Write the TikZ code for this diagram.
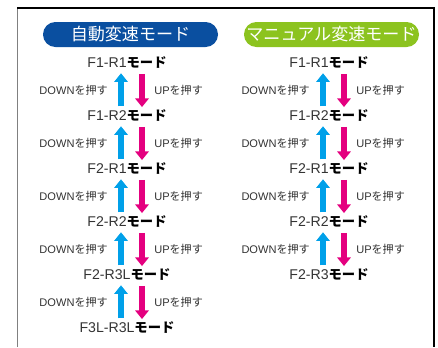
\documentclass[tikz,border=0pt]{standalone}
\usepackage{fontspec}
\setmainfont{Liberation Sans}
\newfontfamily\jpfont{Noto Sans CJK JP}
\newcommand{\jp}[1]{{\jpfont #1}}
\newcommand{\modetxt}[1]{#1{\jpfont\fontsize{10}{12}\selectfont\color{black}\textbf{モード}}}
\newcommand{\pushtxt}[1]{#1{\jpfont を押す}}
\usetikzlibrary{arrows.meta,positioning}
\definecolor{autoblue}{HTML}{0A4FA0}
\definecolor{manugreen}{HTML}{8CC31F}
\definecolor{upcyan}{HTML}{00A0E9}
\definecolor{downmag}{HTML}{E4007F}

\begin{document}
\begin{tikzpicture}[x=0.75pt,y=-0.75pt,
  pill/.style={rounded corners=9.3pt, minimum width=131.25pt, minimum height=18.75pt, inner sep=0pt, text=white, font=\jpfont\fontsize{12.8}{14}\selectfont},
  mode/.style={inner sep=0pt, text height=7.5pt, text depth=2pt, text=black!80, font=\fontsize{10.6}{12}\selectfont},
  push/.style={inner sep=0pt, text=black!80, font=\fontsize{8.3}{10}\selectfont},
  uparr/.style={draw=upcyan, line width=4.5pt, -{Triangle[width=10pt,length=6.5pt]}, shorten <=3pt, shorten >=2pt},
  downarr/.style={draw=downmag, line width=4.5pt, -{Triangle[width=10pt,length=6.5pt]}, shorten <=2.5pt, shorten >=2.5pt}]
\useasboundingbox (0,0) rectangle (438,347);
% frame
\draw[gray, line width=0.9pt] (17.5,347) -- (17.5,8);
\draw[line width=0.9pt] (17,8) -- (434,8) -- (434,347);
% headers
\node[pill, fill=autoblue] (auto) at (130.5,34.5) {自動変速モード};
\node[pill, fill=manugreen] (manual) at (331.5,34.5) {マニュアル変速モード};
% automatic
\node[mode] (a1) at (127,64) {\modetxt{F1-R1}};
\node[mode] (a2) at (127,117) {\modetxt{F1-R2}};
\node[mode] (a3) at (127,170) {\modetxt{F2-R1}};
\node[mode] (a4) at (127,223) {\modetxt{F2-R2}};
\node[mode] (a5) at (127,276) {\modetxt{F2-R3L}};
\node[mode] (a6) at (127,329) {\modetxt{F3L-R3L}};
\draw[uparr] ([xshift=-4.5pt]a2.north) -- ([xshift=-4.5pt]a1.south);
\draw[downarr] ([xshift=11.25pt]a1.south) -- ([xshift=11.25pt]a2.north);
\draw[uparr] ([xshift=-4.5pt]a3.north) -- ([xshift=-4.5pt]a2.south);
\draw[downarr] ([xshift=11.25pt]a2.south) -- ([xshift=11.25pt]a3.north);
\draw[uparr] ([xshift=-4.5pt]a4.north) -- ([xshift=-4.5pt]a3.south);
\draw[downarr] ([xshift=11.25pt]a3.south) -- ([xshift=11.25pt]a4.north);
\draw[uparr] ([xshift=-4.5pt]a5.north) -- ([xshift=-4.5pt]a4.south);
\draw[downarr] ([xshift=11.25pt]a4.south) -- ([xshift=11.25pt]a5.north);
\draw[uparr] ([xshift=-4.5pt]a6.north) -- ([xshift=-4.5pt]a5.south);
\draw[downarr] ([xshift=11.25pt]a5.south) -- ([xshift=11.25pt]a6.north);
\node[push, anchor=east] (ad1) at (108,90.5) {\pushtxt{DOWN}};
\node[push, anchor=west] (au1) at (154,90.5) {\pushtxt{UP}};
\node[push, anchor=east] (ad2) at (108,143.5) {\pushtxt{DOWN}};
\node[push, anchor=west] (au2) at (154,143.5) {\pushtxt{UP}};
\node[push, anchor=east] (ad3) at (108,196.5) {\pushtxt{DOWN}};
\node[push, anchor=west] (au3) at (154,196.5) {\pushtxt{UP}};
\node[push, anchor=east] (ad4) at (108,249.5) {\pushtxt{DOWN}};
\node[push, anchor=west] (au4) at (154,249.5) {\pushtxt{UP}};
\node[push, anchor=east] (ad5) at (108,302.5) {\pushtxt{DOWN}};
\node[push, anchor=west] (au5) at (154,302.5) {\pushtxt{UP}};
% manual
\node[mode] (m1) at (329,64) {\modetxt{F1-R1}};
\node[mode] (m2) at (329,117) {\modetxt{F1-R2}};
\node[mode] (m3) at (329,170) {\modetxt{F2-R1}};
\node[mode] (m4) at (329,223) {\modetxt{F2-R2}};
\node[mode] (m5) at (329,276) {\modetxt{F2-R3}};
\draw[uparr] ([xshift=-4.5pt]m2.north) -- ([xshift=-4.5pt]m1.south);
\draw[downarr] ([xshift=11.25pt]m1.south) -- ([xshift=11.25pt]m2.north);
\draw[uparr] ([xshift=-4.5pt]m3.north) -- ([xshift=-4.5pt]m2.south);
\draw[downarr] ([xshift=11.25pt]m2.south) -- ([xshift=11.25pt]m3.north);
\draw[uparr] ([xshift=-4.5pt]m4.north) -- ([xshift=-4.5pt]m3.south);
\draw[downarr] ([xshift=11.25pt]m3.south) -- ([xshift=11.25pt]m4.north);
\draw[uparr] ([xshift=-4.5pt]m5.north) -- ([xshift=-4.5pt]m4.south);
\draw[downarr] ([xshift=11.25pt]m4.south) -- ([xshift=11.25pt]m5.north);
\node[push, anchor=east] (md1) at (310,90.5) {\pushtxt{DOWN}};
\node[push, anchor=west] (mu1) at (356,90.5) {\pushtxt{UP}};
\node[push, anchor=east] (md2) at (310,143.5) {\pushtxt{DOWN}};
\node[push, anchor=west] (mu2) at (356,143.5) {\pushtxt{UP}};
\node[push, anchor=east] (md3) at (310,196.5) {\pushtxt{DOWN}};
\node[push, anchor=west] (mu3) at (356,196.5) {\pushtxt{UP}};
\node[push, anchor=east] (md4) at (310,249.5) {\pushtxt{DOWN}};
\node[push, anchor=west] (mu4) at (356,249.5) {\pushtxt{UP}};
\end{tikzpicture}
\end{document}
